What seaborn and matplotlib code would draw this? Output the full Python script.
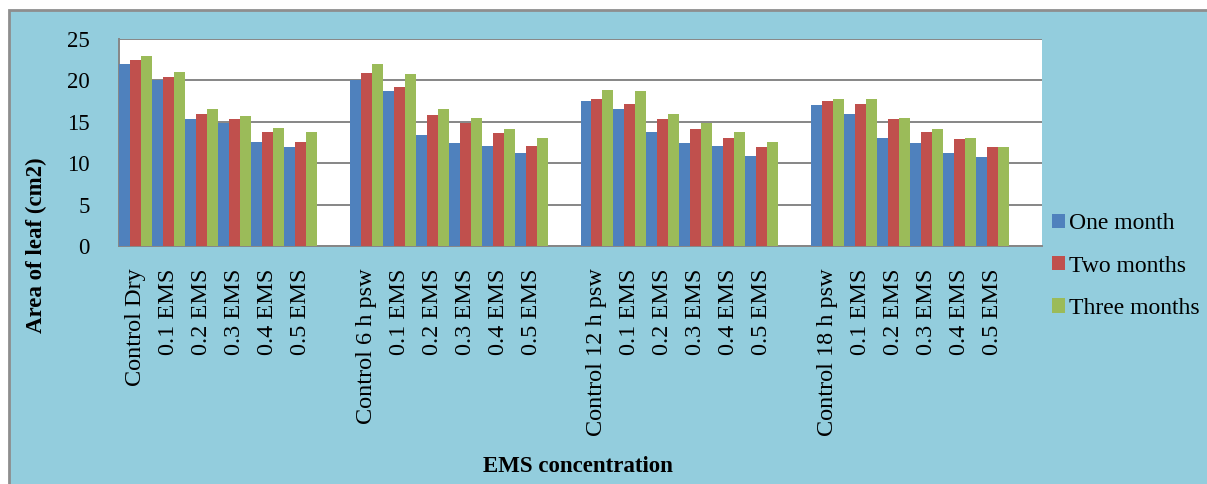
import matplotlib
matplotlib.use("Agg")
import matplotlib.pyplot as plt
import matplotlib.patches as mpatches
import numpy as np
import pandas as pd
import seaborn as sns

# ---- data -------------------------------------------------------------
groups = ["Control Dry", "Control 6 h psw", "Control 12 h psw", "Control 18 h psw"]
doses = ["0.1 EMS", "0.2 EMS", "0.3 EMS", "0.4 EMS", "0.5 EMS"]
periods = ["One month", "Two months", "Three months"]

# leaf area (cm2) per treatment; each list: control, 0.1 .. 0.5 EMS
one_month = [22.0, 20.0, 15.3, 14.9, 12.6, 11.9,
             20.0, 18.7, 13.4, 12.4, 12.1, 11.2,
             17.5, 16.5, 13.8, 12.4, 12.1, 10.9,
             17.0, 16.0, 13.1, 12.4, 11.2, 10.7]
two_months = [22.5, 20.4, 16.0, 15.3, 13.8, 12.6,
              20.9, 19.2, 15.8, 14.9, 13.6, 12.1,
              17.7, 17.2, 15.3, 14.1, 13.1, 11.9,
              17.5, 17.2, 15.3, 13.8, 12.9, 11.9]
three_months = [23.0, 21.0, 16.5, 15.7, 14.3, 13.8,
                22.0, 20.8, 16.5, 15.5, 14.1, 13.1,
                18.9, 18.7, 16.0, 14.8, 13.8, 12.6,
                17.7, 17.7, 15.5, 14.1, 13.1, 11.9]

# ---- long-form table --------------------------------------------------
slot_keys, slot_labels = [], []
for gi, g in enumerate(groups):
    for lab in [g] + doses:
        slot_keys.append(f"{gi}:{lab}")
        slot_labels.append(lab)
    # empty slot separating the groups
    slot_keys.append(f"{gi}:gap")
    slot_labels.append("")

data_keys = [k for k in slot_keys if not k.endswith(":gap")]
rows = []
for vals, per in zip([one_month, two_months, three_months], periods):
    for k, v in zip(data_keys, vals):
        rows.append({"slot": k, "area": v, "period": per})
df = pd.DataFrame(rows)

# ---- style ------------------------------------------------------------
sns.set_theme(style="white")
plt.rcParams["font.family"] = ["Liberation Serif", "DejaVu Serif"]
plt.rcParams["text.color"] = "black"
plt.rcParams["xtick.color"] = "black"
plt.rcParams["ytick.color"] = "black"

panel_bg = "#93CDDD"
grid_c = "#868686"
palette = ["#4F81BD", "#C0504D", "#9BBB59"]

W, H = 1207, 484
fig = plt.figure(figsize=(W / 100, H / 100), dpi=100, facecolor="white")

# outer chart panel
fig.patches.append(mpatches.Rectangle((9 / W, -0.05), 1.1, 1 - 10 / H + 0.05,
                                      transform=fig.transFigure, facecolor=panel_bg,
                                      edgecolor="#8E8E8E", linewidth=2, zorder=-5))

ax = fig.add_axes([119 / W, 1 - 246 / H, (1042 - 119) / W, (246 - 39) / H])
ax.set_zorder(2)
ax.set_facecolor("white")

sns.barplot(data=df, x="slot", y="area", hue="period", order=slot_keys,
            hue_order=periods, palette=palette, width=1.0, gap=0,
            saturation=1, linewidth=0, errorbar=None, ax=ax, zorder=3)

n = len(slot_keys)
ax.set_xlim(-0.5, n - 0.5)
ax.set_ylim(0, 25)
ax.set_yticks([0, 5, 10, 15, 20, 25])
ax.set_yticklabels(["0", "5", "10", "15", "20", "25"], fontsize=16.5)
ax.yaxis.grid(True, color=grid_c, linewidth=1.4, zorder=1)
ax.set_axisbelow(True)

# ticks on slot boundaries, labels at slot centres
ax.set_xticks(np.arange(n + 1) - 0.5)
ax.set_xticklabels([])
ax.set_xticks(np.arange(n), minor=True)
ax.set_xticklabels(slot_labels, minor=True, rotation=90, fontsize=17.5, va="top")
ax.tick_params(axis="x", which="major", length=7, width=1.2, color=grid_c, direction="out")
ax.tick_params(axis="x", which="minor", length=0, pad=16)
ax.tick_params(axis="y", length=8, width=1.2, color=grid_c, direction="out", pad=13)
ax.tick_params(axis="both", which="both", labelcolor="black")

for s in ["top", "right"]:
    ax.spines[s].set_visible(False)
for s in ["left", "bottom"]:
    ax.spines[s].set_color(grid_c)
    ax.spines[s].set_linewidth(1.4)

ax.set_xlabel("")
ax.set_ylabel("")

handles, labels = ax.get_legend_handles_labels()
if ax.legend_ is not None:
    ax.legend_.remove()
fig.legend(handles, labels, loc="upper left", bbox_to_anchor=(1043 / W, 1 - 204 / H),
           frameon=False, fontsize=17, handlelength=0.55, handleheight=0.55,
           handletextpad=0.15, labelspacing=0.9, borderaxespad=0, labelcolor="black")

fig.text(36 / W, 1 - 245 / H, "Area of leaf (cm2)", rotation=90, ha="center",
         va="center", fontsize=16.5, fontweight="bold", color="black")
fig.text(578 / W, 1 - 467 / H, "EMS concentration", ha="center", va="center",
         fontsize=16.5, fontweight="bold", color="black")

fig.savefig("out.png", dpi=100, facecolor=fig.get_facecolor())
